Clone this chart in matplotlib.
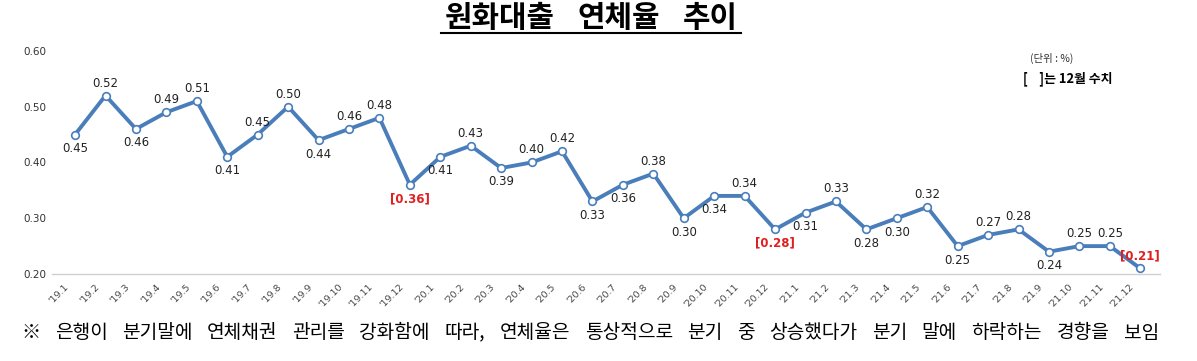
import matplotlib
matplotlib.use("Agg")
import matplotlib.pyplot as plt
import matplotlib.transforms as mtransforms

plt.rcParams['font.family'] = ['Noto Sans CJK KR', 'DejaVu Sans']

months = ["'19.1", "'19.2", "'19.3", "'19.4", "'19.5", "'19.6", "'19.7", "'19.8", "'19.9", "'19.10", "'19.11", "'19.12",
          "'20.1", "'20.2", "'20.3", "'20.4", "'20.5", "'20.6", "'20.7", "'20.8", "'20.9", "'20.10", "'20.11", "'20.12",
          "'21.1", "'21.2", "'21.3", "'21.4", "'21.5", "'21.6", "'21.7", "'21.8", "'21.9", "'21.10", "'21.11", "'21.12"]
rates = [0.45, 0.52, 0.46, 0.49, 0.51, 0.41, 0.45, 0.50, 0.44, 0.46, 0.48, 0.36,
         0.41, 0.43, 0.39, 0.40, 0.42, 0.33, 0.36, 0.38, 0.30, 0.34, 0.34, 0.28,
         0.31, 0.33, 0.28, 0.30, 0.32, 0.25, 0.27, 0.28, 0.24, 0.25, 0.25, 0.21]
# label placement: 'a' above, 'b' below
label_pos = ['b', 'a', 'b', 'a', 'a', 'b', 'a', 'a', 'b', 'a', 'a', 'b',
             'b', 'a', 'b', 'a', 'a', 'b', 'b', 'a', 'b', 'b', 'a', 'b',
             'b', 'a', 'b', 'b', 'a', 'b', 'a', 'a', 'b', 'a', 'a', 'a']
yticks = [0.20, 0.30, 0.40, 0.50, 0.60]

title = "원화대출 연체율 추이"
unit_text = "(단위 : %)"
bracket_note = "[    ]는 12월 수치"
footnote = "※ 은행이 분기말에 연체채권 관리를 강화함에 따라, 연체율은 통상적으로 분기 중 상승했다가 분기 말에 하락하는 경향을 보임"

W, H = 1197, 361
fig = plt.figure(figsize=(W / 100, H / 100), dpi=100)
ax = fig.add_axes([0.0434, 0.241, 0.926, 0.618])

x = list(range(len(months)))
line_color = '#4A7EBB'
ax.plot(x, rates, color=line_color, lw=2.8, marker='o', ms=5.5,
        markerfacecolor='white', markeredgecolor=line_color, markeredgewidth=1.2, zorder=3)

for i, (v, p) in enumerate(zip(rates, label_pos)):
    is_dec = months[i].endswith('.12')
    txt = f"[{v:.2f}]" if is_dec else f"{v:.2f}"
    dy = 9 if p == 'a' else -10
    ax.annotate(txt, (i, v), xytext=(0, dy), textcoords='offset points',
                ha='center', va='center', fontsize=8.5,
                color='#E02020' if is_dec else '#222222',
                fontweight='bold' if is_dec else 'normal',
                family=['DejaVu Sans'])

ax.set_xlim(-0.76, 35.66)
ax.set_ylim(0.2, 0.6)
ax.set_yticks(yticks)
ax.set_yticklabels([f"{t:.2f}" for t in yticks], fontsize=7.5, color='#333333', family=['DejaVu Sans'])
ax.set_xticks(x)
ax.tick_params(axis='x', length=0, pad=6)
ax.tick_params(axis='y', length=0, pad=4)
ax.set_xticklabels(months, rotation=45, ha='right', va='top', fontsize=6.8, color='#444444',
                   rotation_mode='anchor', family=['DejaVu Sans'])
shift = mtransforms.ScaledTranslation(-11 / 100, 0, fig.dpi_scale_trans)
for lab in ax.get_xticklabels():
    lab.set_transform(lab.get_transform() + shift)
for s in ['top', 'right', 'left']:
    ax.spines[s].set_visible(False)
ax.spines['bottom'].set_color('#D0D0D0')
ax.spines['bottom'].set_linewidth(1.0)

renderer = fig.canvas.get_renderer()


def justified(text, x0, x1, yc, **kw):
    """Place words of text so that the line spans pixel x0..x1 (figure pixels)."""
    words = text.split(' ')
    arts = [fig.text(0, yc / H, w, ha='left', va='center', **kw) for w in words]
    widths = [a.get_window_extent(renderer).width for a in arts]
    gap = ((x1 - x0) - sum(widths)) / max(len(words) - 1, 1)
    cx = x0
    for a, w in zip(arts, widths):
        a.set_x(cx / W)
        cx += w + gap
    return arts


justified(title, 445, 738, H - 18, fontsize=21.5, fontweight='bold')
fig.add_artist(plt.Line2D([441 / W, 741 / W], [(H - 32.5) / H] * 2, color='black', lw=1.5,
                          transform=fig.transFigure))
justified(footnote, 21, 1159, H - 333, fontsize=13.8)

fig.text(1052 / W, 1 - 58 / H, unit_text, ha='center', va='center', fontsize=7.5, color='#333333')
fig.text(1068 / W, 1 - 79 / H, bracket_note, ha='center', va='center', fontsize=9.3, fontweight='bold')

fig.savefig('out.png', dpi=100)
